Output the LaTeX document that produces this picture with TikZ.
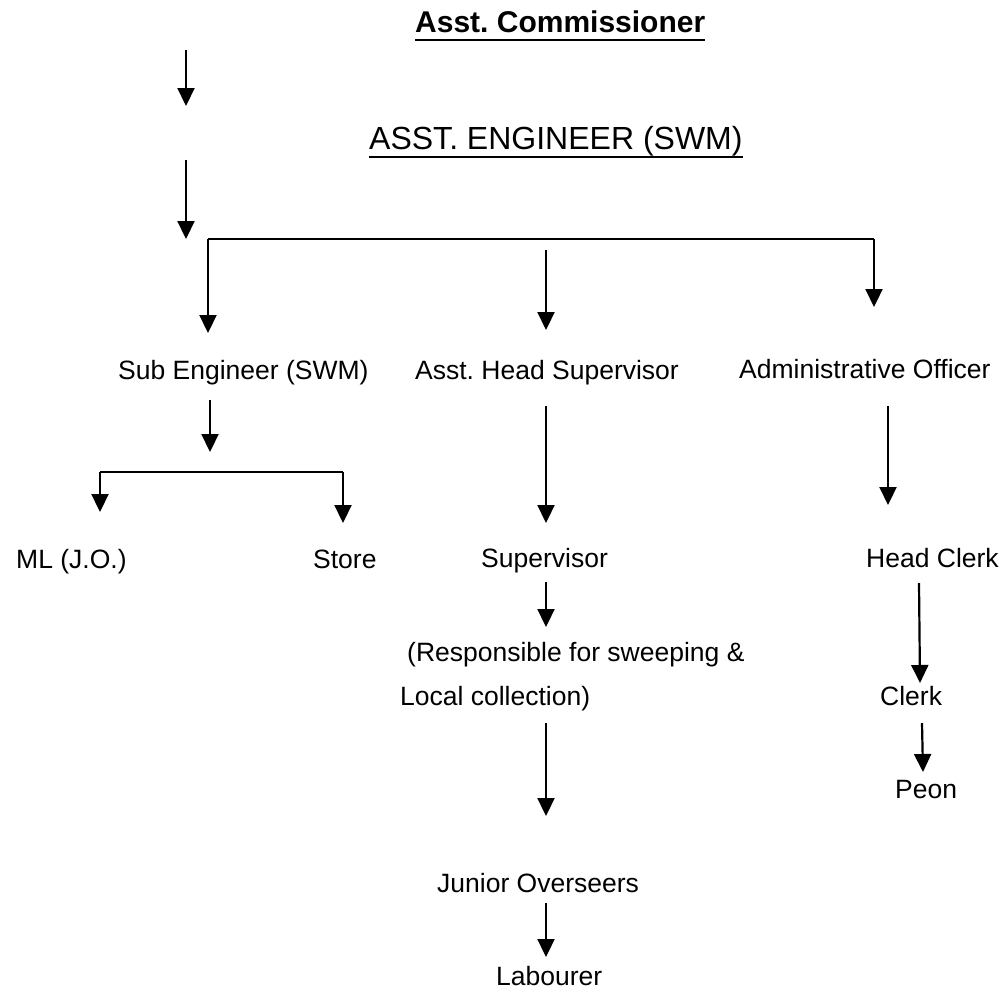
\documentclass[tikz,border=0pt]{standalone}
\usepackage{fontspec}
\setmainfont{Liberation Sans}
\usetikzlibrary{arrows.meta}
\frenchspacing
\tikzset{
  lbl/.style={inner sep=0pt, anchor=base west, font=\fontsize{26.5}{30}\selectfont},
  arr/.style={line width=2.2pt, -{Triangle[width=17pt,length=18pt]}},
  ln/.style={line width=2.2pt},
  ul/.style={line width=1.8pt}
}
\begin{document}
\begin{tikzpicture}[x=1pt,y=-1pt]
\useasboundingbox (0,0) rectangle (1006,991);
% texts
\node[lbl, font=\fontsize{30}{34}\selectfont\bfseries] (ac) at (415,32) {Asst. Commissioner};
\node[lbl, font=\fontsize{32}{36}\selectfont] (ae) at (369,149) {ASST. ENGINEER (SWM)};
\node[lbl] (se) at (118,379) {Sub Engineer (SWM)};
\node[lbl] (ahs) at (415,379) {Asst. Head Supervisor};
\node[lbl] (ao) at (739,378) {Administrative Officer};
\node[lbl] (ml) at (16,568) {ML (J.O.)};
\node[lbl] (st) at (313,568) {Store};
\node[lbl] (sup) at (481,567) {Supervisor};
\node[lbl] (hc) at (866,567) {Head Clerk};
\node[lbl] (r1) at (407,661) {(Responsible for sweeping \&};
\node[lbl] (r2) at (400,705) {Local collection)};
\node[lbl] (cl) at (880,705) {Clerk};
\node[lbl] (pe) at (895,798) {Peon};
\node[lbl] (jo) at (437,892) {Junior Overseers};
\node[lbl] (lab) at (496,985) {Labourer};
% underlines
\draw[ul] ([yshift=-8pt]ac.base west) -- ([yshift=-8pt]ac.base east);
\draw[ul] ([yshift=-8pt]ae.base west) -- ([yshift=-8pt]ae.base east);
% coordinates
\coordinate (a1s) at (186,50);  \coordinate (a1e) at (186,106);
\coordinate (a2s) at (186,160); \coordinate (a2e) at (186,239);
\coordinate (b1l) at (208,239); \coordinate (b1r) at (874,239);
\coordinate (d1l) at (208,333); \coordinate (d1r) at (874,307);
\coordinate (mms) at (546,250); \coordinate (mme) at (546,330);
\coordinate (ses) at (210,400); \coordinate (see) at (210,452);
\coordinate (b2l) at (100,472); \coordinate (b2r) at (343,472);
\coordinate (d2l) at (100,512); \coordinate (d2r) at (343,523);
\coordinate (h1s) at (546,406); \coordinate (h1e) at (546,523);
\coordinate (h2s) at (546,582); \coordinate (h2e) at (546,627);
\coordinate (h3s) at (546,723); \coordinate (h3e) at (546,816);
\coordinate (h4s) at (546,903); \coordinate (h4e) at (546,957);
\coordinate (o1s) at (888,406); \coordinate (o1e) at (888,505);
\coordinate (o2s) at (919,583); \coordinate (o2e) at (920,683);
\coordinate (o3s) at (922,723); \coordinate (o3e) at (923,772);
% connectors
\draw[arr] (a1s) -- (a1e);
\draw[arr] (a2s) -- (a2e);
\draw[ln] (b1l) -- (b1r);
\draw[arr] (b1l) -- (d1l);
\draw[arr] (b1r) -- (d1r);
\draw[arr] (mms) -- (mme);
\draw[arr] (ses) -- (see);
\draw[ln] (b2l) -- (b2r);
\draw[arr] (b2l) -- (d2l);
\draw[arr] (b2r) -- (d2r);
\draw[arr] (h1s) -- (h1e);
\draw[arr] (h2s) -- (h2e);
\draw[arr] (h3s) -- (h3e);
\draw[arr] (h4s) -- (h4e);
\draw[arr] (o1s) -- (o1e);
\draw[arr] (o2s) -- (o2e);
\draw[arr] (o3s) -- (o3e);
\end{tikzpicture}
\end{document}
